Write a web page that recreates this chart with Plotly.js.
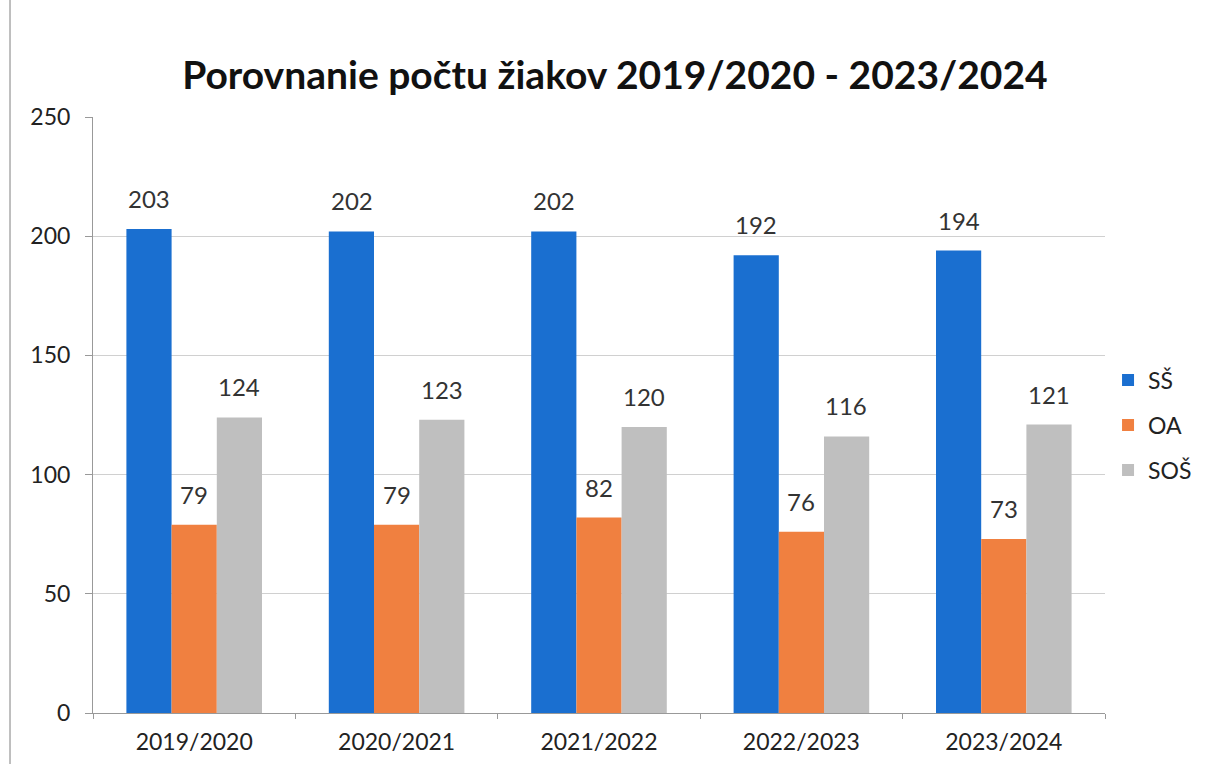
<!DOCTYPE html>
<html><head><meta charset="utf-8">
<script src="https://cdn.plot.ly/plotly-3.0.1.min.js"></script>
<style>body{margin:0;background:#fff}#c{width:1225px;height:764px}</style>
</head><body><div id="c"></div>
<script>
const categories = ["2019/2020","2020/2021","2021/2022","2022/2023","2023/2024"];
const seriesNames = ["SŠ","OA","SOŠ"];
const ssValues = [203,202,202,192,194];
const oaValues = [79,79,82,76,73];
const sosValues = [124,123,120,116,121];
const yTicks = [0,50,100,150,200,250];
const colors = ["#1a6fd0","#f08040","#bfbfbf"];
const font = "Lato, 'Open Sans', sans-serif";

const vals = [ssValues, oaValues, sosValues];
const traces = vals.map((v,i)=>({
  type:"bar", x:categories, y:v, name:seriesNames[i], legendgroup:"g"+i,
  marker:{color:colors[i]}, hoverinfo:"x+y+name"
}));

// data labels above bars
const groupOffsetPx = [-45, 0, 45];
const annotations = [];
vals.forEach((v,i)=>v.forEach((n,j)=>annotations.push({
  x:categories[j], y:n, xref:"x", yref:"y", text:String(n), showarrow:false,
  xanchor:"center", yanchor:"bottom", xshift:groupOffsetPx[i], yshift:14,
  font:{size:24,color:"#333",family:font}
})));

const layout = {
  width:1225, height:764, paper_bgcolor:"#fff", plot_bgcolor:"#fff",
  margin:{l:93,r:120,t:117,b:51},
  title:{text:"<b>Porovnanie počtu žiakov 2019/2020 - 2023/2024</b>", x:0.502, xanchor:"center", y:0.902, yanchor:"middle",
    font:{size:39,color:"#111",family:font}},
  barmode:"group", bargap:0.33, bargroupgap:0,
  xaxis:{showgrid:false, showline:true, linecolor:"#999", ticks:"outside", ticklen:5, tickcolor:"#999",
    tickson:"boundaries", ticklabelstandoff:8, tickfont:{size:23,color:"#222",family:font}},
  yaxis:{range:[0,250], tickvals:yTicks, showgrid:true, gridcolor:"#d0d0d0", showline:true, linecolor:"#999",
    ticks:"outside", ticklen:7, tickcolor:"#999", zeroline:false, ticklabelstandoff:10,
    tickfont:{size:23,color:"#222",family:font}},
  legend:{x:1.003, xanchor:"left", y:0.483, yanchor:"middle", font:{size:23,color:"#222",family:font},
    tracegroupgap:12, traceorder:"grouped", itemwidth:30},
  annotations:annotations,
  shapes:[{type:"line", xref:"paper", yref:"paper", x0:-0.082, x1:-0.082, y0:-0.1, y1:1.25, line:{color:"#aaa",width:1.5}}],
  showlegend:true
};
Plotly.newPlot("c", traces, layout, {displayModeBar:false});
</script></body></html>
